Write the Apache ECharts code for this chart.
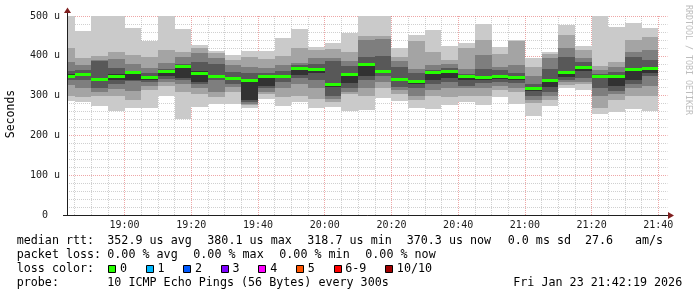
<!DOCTYPE html>
<html><head><meta charset="utf-8">
<script src="https://cdn.jsdelivr.net/npm/echarts@6/dist/echarts.min.js"></script>
<style>html,body{margin:0;padding:0;background:#fff}#c{width:697px;height:297px}</style>
</head><body><div id="c"></div><script>
// ---- data (5-minute steps, each value is the end of its step) ----
const times = ['18:45','18:50','18:55','19:00','19:05','19:10','19:15','19:20','19:25','19:30','19:35','19:40',
  '19:45','19:50','19:55','20:00','20:05','20:10','20:15','20:20','20:25','20:30','20:35','20:40',
  '20:45','20:50','20:55','21:00','21:05','21:10','21:15','21:20','21:25','21:30','21:35','21:40'];
// sorted pings (us), ping1 = fastest ... ping10 = slowest
const ping1  = [287,285,274,262,270,270,298,242,272,280,279,270,291,273,285,270,272,262,263,294,287,270,266,276,285,276,297,279,249,274,318,314,255,260,266,262];
const ping2  = [299,296,300,300,290,313,325,310,305,296,308,276,303,296,300,292,283,304,300,318,304,290,298,297,300,300,314,310,282,290,326,330,268,290,300,300];
const ping3  = [327,318,308,317,311,325,335,330,320,310,322,280,310,318,330,318,292,310,320,335,313,300,315,318,318,318,325,318,290,298,334,335,300,305,320,325];
const ping4  = [338,340,318,330,336,334,342,340,328,338,330,283,318,335,345,340,300,320,338,348,322,320,328,335,325,332,335,332,300,310,340,343,320,312,330,348];
const ping5  = [344,350,336,340,340,340,350,345,335,345,338,289,325,343,352,356,322,331,350,356,336,330,338,343,340,338,342,340,312,322,346,362,344,325,340,358];
const ping6  = [354,358,345,354,360,349,364,375,362,352,346,342,352,350,372,370,330,358,382,364,344,338,362,363,350,348,352,350,320,342,362,374,350,350,368,372];
const ping7  = [362,364,388,370,362,358,368,380,385,380,360,356,358,362,376,380,388,375,398,400,372,356,365,370,355,366,365,358,328,368,398,385,355,360,398,390];
const ping8  = [385,377,390,392,380,370,383,398,408,395,378,372,370,378,381,395,395,388,440,442,388,366,378,380,368,402,372,378,350,395,420,395,365,372,410,415];
const ping9  = [420,394,400,410,402,398,415,410,419,408,390,398,392,400,420,415,418,410,450,450,398,438,410,390,420,440,405,436,373,405,452,414,375,385,440,448];
const ping10 = [510,462,510,510,471,438,505,467,427,412,402,412,413,445,467,423,431,457,510,510,420,452,465,425,431,480,423,440,395,410,478,425,510,473,482,471];
const median = [349,354,340,348,357,345,361,372,356,349,342,339,348,348,369,366,327,354,379,361,341,335,358,360,347,345,349,346,317,338,358,371,347,347,365,369];
const loss   = [0,0,0,0,0,0,0,0,0,0,0,0,0,0,0,0,0,0,0,0,0,0,0,0,0,0,0,0,0,0,0,0,0,0,0,0];
const yTicks = [0,100,200,300,400,500];
const startTime = '18:42:45', endTime = '21:42:45';
const lossLabels = ['0','1','2','3','4','5','6-9','10/10'];
const lossColors = ['#26ff00','#00b8ff','#0059ff','#7e00ff','#ff00ff','#ff5500','#ff0000','#a10000'];
const medianStats = ['352.9 us avg','380.1 us max','318.7 us min','370.3 us now','0.0 ms sd','27.6','am/s'];
const lossStats = ['0.00 % avg','0.00 % max','0.00 % min','0.00 % now'];
const probeText = '10 ICMP Echo Pings (56 Bytes) every 300s';
const stampText = 'Fri Jan 23 21:42:19 2026';
const smokeColors = ['#cacaca','#a4a4a4','#7e7e7e','#585858','#323232'];

// ---- layout ----
const PLOT = {left:67, top:16, right:667.5, bottom:215};
const W = 697, H = 297;
const toMin = s => { const p = s.split(':').map(Number); return p[0]*60 + p[1] + (p[2]||0)/60; };
const fmt = v => { const h = Math.floor(v/60), m = Math.round(v - h*60); return String(h).padStart(2,'0')+':'+String(m).padStart(2,'0'); };
const xMin = toMin(startTime), xMax = toMin(endTime);
const tickMin = Math.ceil(xMin/5)*5;
const pxPerMin = (PLOT.right - PLOT.left)/(xMax - xMin);
const grid1Left = PLOT.left + (tickMin - xMin)*pxPerMin;
const MONO = '"DejaVu Sans Mono", "Liberation Mono", monospace';
const GRID_C = 'rgba(143,143,143,0.42)', MGRID_C = 'rgba(222,79,79,0.5)';

const data = times.map((t,i) => [toMin(t), ping1[i],ping2[i],ping3[i],ping4[i],ping5[i],ping6[i],ping7[i],ping8[i],ping9[i],ping10[i], median[i], loss[i]]);

function renderItem(params, api) {
  const t = api.value(0);
  const xL = Math.round(api.coord([t-5, 0])[0]);
  const xR = Math.round(api.coord([t, 0])[0]);
  const cs = params.coordSys;
  const clipBox = {x: cs.x, y: cs.y, width: cs.width, height: cs.height};
  const children = [];
  for (let k = 0; k < 5; k++) {
    const lo = api.value(1+k), hi = api.value(10-k);
    const yHi = Math.round(api.coord([t, hi])[1]);
    const yLo = Math.round(api.coord([t, lo])[1]);
    const r = echarts.graphic.clipRectByRect({x: xL, y: yHi, width: xR-xL, height: yLo-yHi}, clipBox);
    if (r) children.push({type:'rect', shape: r, style: {fill: smokeColors[k]}});
  }
  const yM = api.coord([t, api.value(11)])[1];
  const mr = echarts.graphic.clipRectByRect({x: xL, y: Math.round(yM-1.5), width: xR-xL, height: 3}, clipBox);
  const li = api.value(12);
  if (mr) children.push({type:'rect', shape: mr, style: {fill: lossColors[li === 10 ? 7 : Math.min(li,6)]}});
  return {type:'group', children};
}

// ---- legend / decoration graphics ----
const graphics = [];
const txt = (text, x, y) => graphics.push({type:'text', x, y, style: {text, fill:'#000', fontFamily: MONO, fontSize: 11.7, align:'left', verticalAlign:'middle'}});
const L1 = 241, L2 = 255, L3 = 269, L4 = 283, LX = 16.7, VX = 107.3;
txt('median rtt:', LX, L1);
const m1x = [107.3, 207.3, 307.3, 406.7, 507.7, 585, 635];
medianStats.forEach((s,i) => txt(s, m1x[i], L1));
txt('packet loss:', LX, L2);
lossStats.forEach((s,i) => txt(s, VX + i*86, L2));
txt('loss color:', LX, L3);
let sx = 108.3;
lossLabels.forEach((lab,i) => {
  graphics.push({type:'rect', shape:{x: Math.round(sx)+0.5, y: 265.5, width: 7, height: 7}, style:{fill: lossColors[i], stroke:'#000', lineWidth:1}});
  txt(lab, sx + 11.7, L3);
  sx += 11.7 + lab.length*7.04 + 18.8;
});
txt('probe:', LX, L4);
txt(probeText, VX, L4);
txt(stampText, 513.3, L4);
graphics.push({type:'text', x: 11.5, y: (PLOT.top+PLOT.bottom)/2 - 1.5, rotation: Math.PI/2,
  style:{text:'Seconds', fill:'#000', fontFamily: MONO, fontSize: 11.5, align:'center', verticalAlign:'middle'}});
graphics.push({type:'text', x: 688.5, y: 60, rotation: -Math.PI/2,
  style:{text:'RRDTOOL / TOBI OETIKER', fill:'#bdbdbd', fontFamily: MONO, fontSize: 8.3, align:'center', verticalAlign:'middle'}});
graphics.push({type:'line', shape:{x1: PLOT.left+0.5, y1: PLOT.top, x2: PLOT.left+0.5, y2: 11}, style:{stroke:'#1f1f1f', lineWidth:1}, z: 20});
graphics.push({type:'line', shape:{x1: 63, y1: PLOT.bottom+0.5, x2: PLOT.left, y2: PLOT.bottom+0.5}, style:{stroke:'#1f1f1f', lineWidth:1}, z: 20});
graphics.push({type:'line', shape:{x1: PLOT.right, y1: PLOT.bottom+0.5, x2: 669, y2: PLOT.bottom+0.5}, style:{stroke:'#1f1f1f', lineWidth:1}, z: 20});
graphics.push({type:'polygon', shape:{points:[[PLOT.left+0.5,7.5],[PLOT.left-3,13],[PLOT.left+4,13]]}, style:{fill:'#801f1f'}, z: 20});
graphics.push({type:'polygon', shape:{points:[[674,PLOT.bottom+0.5],[668,PLOT.bottom-3],[668,PLOT.bottom+4]]}, style:{fill:'#801f1f'}, z: 20});

const chart = echarts.init(document.getElementById('c'), null, {renderer:'canvas', width: W, height: H});
chart.setOption({
  animation: false,
  backgroundColor: '#fff',
  grid: [
    {left: PLOT.left, top: PLOT.top, width: PLOT.right - PLOT.left, height: PLOT.bottom - PLOT.top, containLabel: false},
    {left: grid1Left, top: PLOT.top, width: PLOT.right - grid1Left, height: PLOT.bottom - PLOT.top, containLabel: false}
  ],
  xAxis: [
    {type:'value', gridIndex:0, min: xMin, max: xMax, z: 10,
     axisLine:{show:true, onZero:false, lineStyle:{color:'#1f1f1f', width:1}},
     axisTick:{show:false}, axisLabel:{show:false}, splitLine:{show:false}},
    {type:'value', gridIndex:1, min: tickMin, max: xMax, interval: 5, z: 0,
     axisLine:{show:false}, axisTick:{show:false},
     axisLabel:{show:true, margin: 5, color:'#1a1a1a', fontFamily: MONO, fontSize: 10,
       showMaxLabel:false,
       formatter: v => (Math.abs(v % 20) < 1e-6 ? fmt(v) : '')},
     splitLine:{show:true, showMaxLine:false, lineStyle:{color:[GRID_C, GRID_C, GRID_C, MGRID_C], width:1, type:[1,1]}}}
  ],
  yAxis: [
    {type:'value', gridIndex:0, min: yTicks[0], max: yTicks[yTicks.length-1], interval: yTicks[1]-yTicks[0], z: 10,
     axisLine:{show:true, lineStyle:{color:'#1f1f1f', width:1}}, axisTick:{show:false},
     axisLabel:{show:true, margin: 7, color:'#1a1a1a', fontFamily: MONO, fontSize: 10,
       formatter: v => (v === 0 ? '0  ' : v + ' u')},
     splitLine:{show:false}},
    {type:'value', gridIndex:1, min: yTicks[0], max: yTicks[yTicks.length-1], interval: yTicks[1]-yTicks[0], z: 0,
     axisLine:{show:false}, axisTick:{show:false}, axisLabel:{show:false},
     splitLine:{show:false},
     minorTick:{show:false, splitNumber:5},
     minorSplitLine:{show:false}}
  ],
  series: [{
    type:'custom', xAxisIndex:0, yAxisIndex:0, clip: true,
    renderItem, data, encode:{x:0, y:11}
  }],
  graphic: graphics
});
// horizontal grid lines must span the full plot width, so draw them on a third full-width layer
chart.setOption({
  grid: [
    {left: PLOT.left, top: PLOT.top, width: PLOT.right - PLOT.left, height: PLOT.bottom - PLOT.top, containLabel: false},
    {left: grid1Left, top: PLOT.top, width: PLOT.right - grid1Left, height: PLOT.bottom - PLOT.top, containLabel: false},
    {left: PLOT.left, top: PLOT.top, width: PLOT.right - PLOT.left, height: PLOT.bottom - PLOT.top, containLabel: false}
  ],
  xAxis: [{}, {}, {type:'value', gridIndex:2, min: xMin, max: xMax, show:false}],
  yAxis: [{}, {}, {type:'value', gridIndex:2, min: yTicks[0], max: yTicks[yTicks.length-1], interval: yTicks[1]-yTicks[0], z: 0,
     axisLine:{show:false}, axisTick:{show:false}, axisLabel:{show:false},
     splitLine:{show:true, lineStyle:{color: MGRID_C, width:1, type:[1,1]}},
     minorTick:{show:false, splitNumber:5},
     minorSplitLine:{show:true, lineStyle:{color: GRID_C, width:1, type:[1,1]}}}]
});
</script></body></html>
